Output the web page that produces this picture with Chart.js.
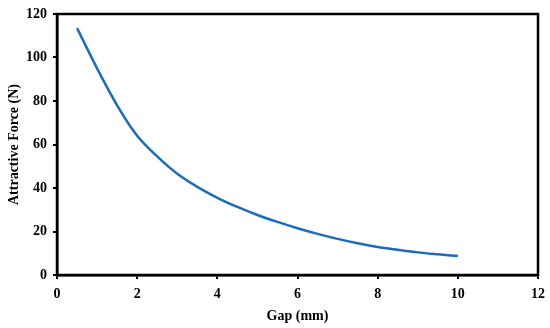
<!DOCTYPE html>
<html>
<head>
<meta charset="utf-8">
<script src="https://cdn.jsdelivr.net/npm/chart.js@4"></script>
<style>
  html, body { margin: 0; padding: 0; background: #fff; }
  #wrap { width: 550px; height: 328px; }
</style>
</head>
<body>
<div id="wrap"><canvas id="forceChart" width="550" height="328"></canvas></div>
<script>
// Gap (mm) and attractive force (N)
const gaps = [0.5, 1, 1.5, 2, 2.5, 3, 3.5, 4, 4.5, 5, 5.5, 6, 6.5, 7, 7.5, 8, 8.5, 9, 9.5, 10];
const forces = [113.5, 95, 78, 64, 54.5, 46.5, 40.5, 35.5, 31.3, 27.6, 24.4, 21.5, 18.9, 16.6, 14.6, 12.9, 11.6, 10.4, 9.5, 8.7];
const xTicks = [0, 2, 4, 6, 8, 10, 12];
const yTicks = [0, 20, 40, 60, 80, 100, 120];

const serif = "'Liberation Serif', 'Times New Roman', serif";

// black frame around the plot area
const frame = {
    id: 'frame',
    afterDraw(chart) {
        const a = chart.chartArea;
        const ctx = chart.ctx;
        ctx.save();
        ctx.strokeStyle = '#000';
        ctx.lineWidth = 2.5;
        ctx.strokeRect(a.left, a.top, a.right - a.left, a.bottom - a.top);
        ctx.restore();
    }
};

const ctx = document.getElementById('forceChart').getContext('2d');
new Chart(ctx, {
    type: 'line',
    data: {
        datasets: [{
            data: gaps.map((g, i) => ({ x: g, y: forces[i] })),
            borderColor: '#1a6cc0',
            borderWidth: 2.5,
            pointRadius: 0,
            cubicInterpolationMode: 'monotone',
            fill: false
        }]
    },
    options: {
        responsive: false,
        animation: false,
        layout: { padding: { left: 0, top: 14, right: 12, bottom: 0 } },
        plugins: {
            legend: { display: false },
            tooltip: { enabled: false }
        },
        scales: {
            x: {
                type: 'linear',
                min: 0,
                max: 12,
                afterBuildTicks: s => { s.ticks = xTicks.map(v => ({ value: v })); },
                afterFit: s => { s.height = 53; s.paddingRight = 0; s.paddingLeft = 0; },
                grid: { drawOnChartArea: false, color: '#000', lineWidth: 2, tickLength: 4 },
                border: { color: '#000', width: 2.5 },
                ticks: { color: '#000', padding: 7, font: { family: serif, size: 14, weight: 'bold' } },
                title: {
                    display: true,
                    text: 'Gap (mm)',
                    color: '#000',
                    padding: { top: 4, bottom: 3 },
                    font: { family: serif, size: 14, weight: 'bold' }
                }
            },
            y: {
                min: 0,
                max: 120,
                afterBuildTicks: s => { s.ticks = yTicks.map(v => ({ value: v })); },
                afterFit: s => { s.width = 57; s.paddingTop = 0; s.paddingBottom = 0; },
                grid: { drawOnChartArea: false, color: '#000', lineWidth: 2, tickLength: 4 },
                border: { color: '#000', width: 2.5 },
                ticks: { color: '#000', padding: 6, font: { family: serif, size: 14, weight: 'bold' } },
                title: {
                    display: true,
                    text: 'Attractive Force (N)',
                    color: '#000',
                    padding: { top: 6, bottom: 4 },
                    font: { family: serif, size: 14, weight: 'bold' }
                }
            }
        }
    },
    plugins: [frame]
});
</script>
</body>
</html>
